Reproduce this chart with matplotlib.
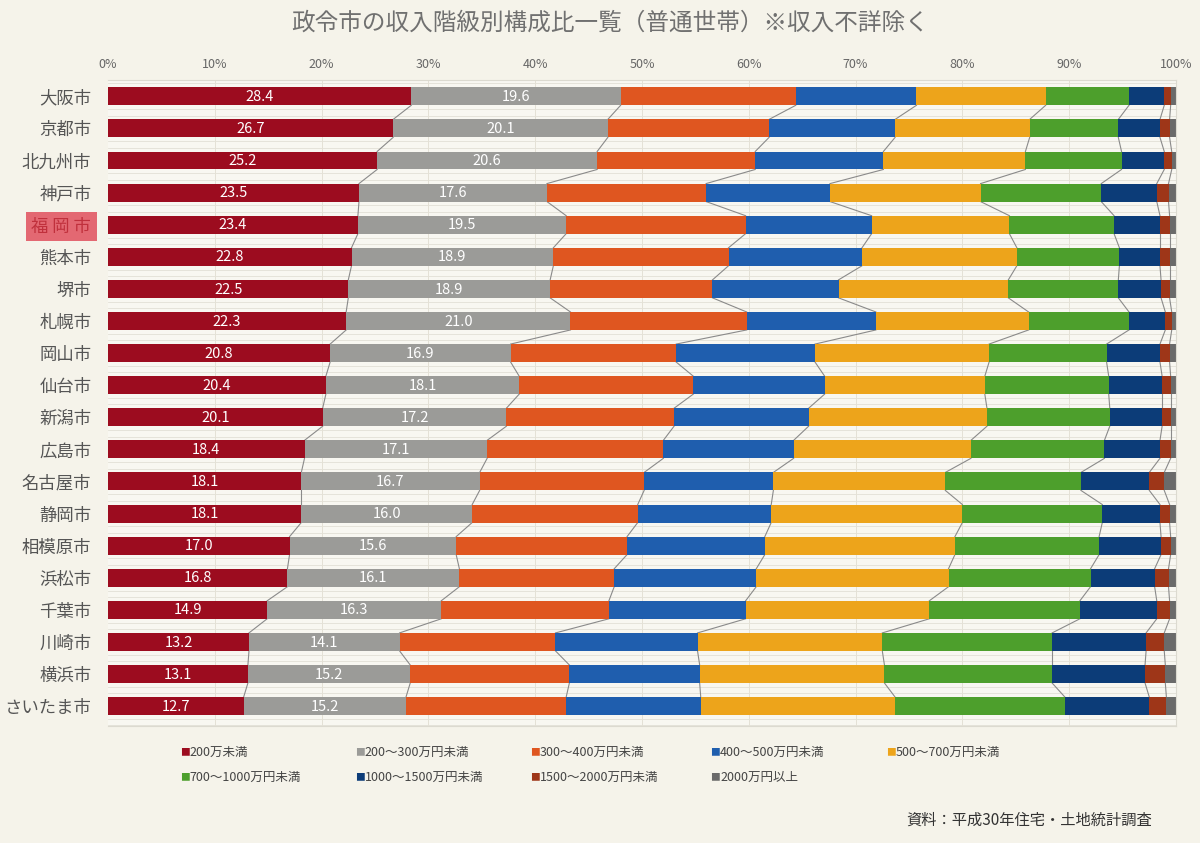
''' 政令市の収入階級別構成比一覧 '''

# IMPORT STATEMENTS
import numpy as np
import matplotlib
matplotlib.use("Agg")
import matplotlib.pyplot as plt

plt.rcParams['font.family'] = ['Noto Sans CJK JP', 'DejaVu Sans']

# DATA LISTS
cities = ["大阪市", "京都市", "北九州市", "神戸市", "福岡市", "熊本市", "堺市", "札幌市",
          "岡山市", "仙台市", "新潟市", "広島市", "名古屋市", "静岡市", "相模原市",
          "浜松市", "千葉市", "川崎市", "横浜市", "さいたま市"]

classes = ["200万未満", "200～300万円未満", "300～400万円未満", "400～500万円未満",
           "500～700万円未満", "700～1000万円未満", "1000～1500万円未満",
           "1500～2000万円未満", "2000万円以上"]

under_200 = [28.4, 26.7, 25.2, 23.5, 23.4, 22.8, 22.5, 22.3, 20.8, 20.4,
             20.1, 18.4, 18.1, 18.1, 17.0, 16.8, 14.9, 13.2, 13.1, 12.7]
r200_300 = [19.6, 20.1, 20.6, 17.6, 19.5, 18.9, 18.9, 21.0, 16.9, 18.1,
            17.2, 17.1, 16.7, 16.0, 15.6, 16.1, 16.3, 14.1, 15.2, 15.2]
r300_400 = [16.4, 15.1, 14.8, 14.9, 16.8, 16.4, 15.2, 16.5, 15.5, 16.3,
            15.7, 16.5, 15.4, 15.5, 16.0, 14.5, 15.7, 14.6, 14.9, 15.0]
r400_500 = [11.3, 11.8, 12.0, 11.6, 11.8, 12.5, 11.8, 12.1, 13.0, 12.3,
            12.6, 12.2, 12.1, 12.5, 12.9, 13.3, 12.8, 13.3, 12.2, 12.6]
r500_700 = [12.1, 12.6, 13.3, 14.1, 12.9, 14.5, 15.9, 14.3, 16.3, 15.0,
            16.7, 16.6, 16.1, 17.9, 17.8, 18.0, 17.2, 17.3, 17.3, 18.2]
r700_1000 = [7.8, 8.3, 9.0, 11.3, 9.8, 9.6, 10.3, 9.4, 11.0, 11.6,
             11.5, 12.5, 12.7, 13.1, 13.5, 13.3, 14.1, 15.9, 15.7, 15.9]
r1000_1500 = [3.3, 3.9, 4.0, 5.2, 4.3, 3.8, 4.0, 3.4, 5.0, 5.0,
              4.9, 5.2, 6.4, 5.4, 5.8, 6.0, 7.2, 8.8, 8.7, 7.9]
r1500_2000 = [0.6, 0.9, 0.7, 1.1, 0.9, 0.9, 0.8, 0.6, 0.9, 0.8,
              0.8, 1.0, 1.4, 0.9, 0.9, 1.3, 1.2, 1.7, 1.9, 1.6]
over_2000 = [0.5, 0.6, 0.4, 0.7, 0.6, 0.6, 0.6, 0.4, 0.6, 0.5,
             0.5, 0.5, 1.1, 0.6, 0.5, 0.7, 0.6, 1.1, 1.0, 0.9]

series = [under_200, r200_300, r300_400, r400_500, r500_700,
          r700_1000, r1000_1500, r1500_2000, over_2000]
colors = ["#9c0c1f", "#9b9b98", "#df5620", "#1f5eae", "#eda41b",
          "#4d9f2c", "#0c3c78", "#9e3618", "#6a6a6a"]

# FIGURE
fig = plt.figure(figsize=(12, 8.43), dpi=100, facecolor="#f5f3ea")
ax = fig.add_axes([0.09, 0.1388, 0.89, 0.766])
ax.set_facecolor("#f8f7f1")

y = np.arange(len(cities))
h = 0.56

# FAINT BACKGROUND STRIPES AND GRID
for k in range(len(cities) + 1):
    for off in (0.4, 0.6):
        ax.axhline(k - 1 + off, color="#e2e0d6", lw=0.6, zorder=0)
for g in range(10, 100, 10):
    ax.axvline(g, color="#e4e1d6", lw=0.7, zorder=0)

# STACKED BARS
left = np.zeros(len(cities))
bounds = []
for vals, col, name in zip(series, colors, classes):
    vals = np.array(vals)
    ax.barh(y, vals, left=left, height=h, color=col, label=name, zorder=2)
    left = left + vals
    bounds.append(left.copy())

# VALUE LABELS FOR FIRST TWO CLASSES
start = np.zeros(len(cities))
for vals in series[:2]:
    for i, v in enumerate(vals):
        ax.text(start[i] + v / 2, y[i] + 0.02, f"{v:.1f}", ha="center", va="center",
                color="white", fontsize=10.5, zorder=3)
    start = start + np.array(vals)

# SERIES LINES
for b in bounds[:-1]:
    for i in range(len(cities) - 1):
        ax.plot([b[i], b[i + 1]], [y[i] + h / 2, y[i + 1] - h / 2],
                color="#8a8a8a", lw=0.8, zorder=1)

# AXES
ax.set_xlim(0, 100)
ax.set_ylim(19.62, -0.5)
ax.xaxis.tick_top()
ax.set_xticks(range(0, 101, 10))
ax.set_xticklabels([f"{t}%" for t in range(0, 101, 10)], fontsize=9, color="#666666")
ax.tick_params(axis="x", length=0, pad=7)
ax.set_yticks(y)
ax.set_yticklabels([c if c != "福岡市" else "福 岡 市" for c in cities],
                   fontsize=12.5, color="#555555")
ax.tick_params(axis="y", length=0, pad=12)
for s in ax.spines.values():
    s.set_color("#dcdad0")
    s.set_linewidth(0.8)
ax.spines["left"].set_visible(False)

# HIGHLIGHT FUKUOKA
lbl = ax.get_yticklabels()[cities.index("福岡市")]
lbl.set_color("#c0303c")
lbl.set_bbox(dict(boxstyle="square,pad=0.3", facecolor="#e36872", edgecolor="none"))

# TITLE
fig.text(0.508, 0.972, "政令市の収入階級別構成比一覧（普通世帯）※収入不詳除く",
         ha="center", va="center", fontsize=17, color="#707070")

# LEGEND
leg_x = [0.150, 0.296, 0.442, 0.592, 0.738]
leg_y = [0.108, 0.078]
for n, (name, col) in enumerate(zip(classes, colors)):
    xx = leg_x[n % 5]
    yy = leg_y[n // 5]
    fig.text(xx, yy, "■", color=col, fontsize=7, ha="left", va="center")
    fig.text(xx + 0.008, yy, name, color="#444444", fontsize=9, ha="left", va="center")

# SOURCE
fig.text(0.96, 0.027, "資料：平成30年住宅・土地統計調査", ha="right", va="center",
         fontsize=11, color="#333333")

plt.savefig("out.png", dpi=100, facecolor=fig.get_facecolor())
plt.close()
